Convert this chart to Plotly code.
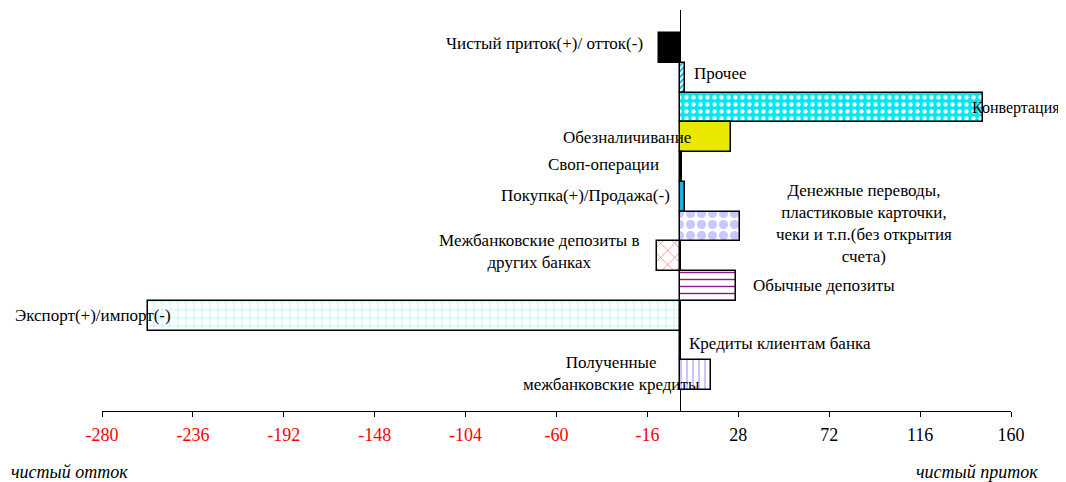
import plotly.graph_objects as go

categories = [
    "Чистый приток(+)/ отток(-)",
    "Прочее",
    "Конвертация",
    "Обезналичивание",
    "Своп-операции",
    "Покупка(+)/Продажа(-)",
    "Денежные переводы",
    "Межбанковские депозиты в других банках",
    "Обычные депозиты",
    "Экспорт(+)/импорт(-)",
    "Кредиты клиентам банка",
    "Полученные межбанковские кредиты",
]
values = [-10.5, 2.3, 146.5, 24.5, 0.6, 2.2, 29.0, -11.5, 27.0, -257.5, 0.0, 15.0]

tick_vals = [-280, -236, -192, -148, -104, -60, -16, 28, 72, 116, 160]

# label texts and placement (x in data units, anchor, vertical shift in px upward)
label_texts = [
    "Чистый приток(+)/ отток(-)",
    "Прочее",
    "Конвертация",
    "Обезналичивание",
    "Своп-операции",
    "Покупка(+)/Продажа(-)",
    "Денежные переводы,<br>пластиковые карточки,<br>чеки и т.п.(без открытия<br>счета)",
    "Межбанковские депозиты в<br>других банках",
    "Обычные депозиты",
    "Экспорт(+)/импорт(-)",
    "Кредиты клиентам банка",
    "Полученные<br>межбанковские кредиты",
]
label_x = [-17.2, 5.6, 140.3, 6.1, -9.4, -4.1, 88.8, -68, 34.1, -245.6, 3.2, -33.6]
label_anchor = ["right", "left", "left", "right", "right", "right", "center", "center",
                "left", "right", "left", "center"]
label_dy = [5, 4, 0, 0, 3, 1, 3, 4.5, 1, 0, 2, 1.5]
label_size = [17, 17, 16, 17, 17, 17, 17, 17, 17, 17, 17, 17]

# styles
fill_bg = ["black", "white", "#00e8f0", "#e8e800", "black", "#1ab0e8", "white", "white",
           "white", "white", "white", "white"]
fill_fg = ["black", "#1ab0e8", "white", "#e8e800", "black", "#1ab0e8", "#c8c8ff", "#ff8080",
           "#8b1a8b", "#a8f0f0", "white", "#8080ff"]
fill_shape = ["", "/", ".", "", "", "", ".", "x", "-", "+", "", "|"]
fill_size = [8, 4, 7, 8, 8, 8, 11, 10, 7, 8, 8, 6]
fill_sol = [0.3, 0.5, 0.3, 0.3, 0.3, 0.3, 0.55, 0.15, 0.2, 0.15, 0.3, 0.15]

fig = go.Figure()
for i, c in enumerate(categories):
    fig.add_trace(go.Bar(
        x=[values[i]], y=[c], orientation="h",
        marker=dict(
            color=fill_bg[i],
            line=dict(color="black", width=1.5),
            pattern=dict(shape=fill_shape[i], fgcolor=fill_fg[i], bgcolor=fill_bg[i],
                         size=fill_size[i], solidity=fill_sol[i], fillmode="replace"),
        ),
        showlegend=False, hoverinfo="skip",
    ))

FAM = "Liberation Serif, Times New Roman, serif"
font = dict(family=FAM, size=17, color="black")

for i, c in enumerate(categories):
    fig.add_annotation(x=label_x[i], y=c, text=label_texts[i], showarrow=False,
                       xanchor=label_anchor[i], yanchor="middle", yshift=label_dy[i],
                       align="center", font=dict(family=FAM, size=label_size[i], color="black"))

fig.add_annotation(x=0, y=-0.152, xref="paper", yref="paper", text="<i>чистый отток</i>",
                   showarrow=False, xanchor="left", yanchor="middle", xshift=-93,
                   font=dict(family=FAM, size=18, color="black"))
fig.add_annotation(x=1, y=-0.152, xref="paper", yref="paper", text="<i>чистый приток</i>",
                   showarrow=False, xanchor="right", yanchor="middle", xshift=29,
                   font=dict(family=FAM, size=18, color="black"))

tick_text = [("<span style='color:red'>%d</span>" % v) if v < 0 else str(v) for v in tick_vals]

fig.update_layout(
    width=1058, height=474,
    margin=dict(l=94, r=55, t=2, b=71),
    plot_bgcolor="white", paper_bgcolor="white",
    barmode="overlay", bargap=0,
    font=font,
    xaxis=dict(range=[-280, 160], tickvals=tick_vals, ticktext=tick_text,
               showgrid=False, zeroline=True, zerolinecolor="black", zerolinewidth=1.2,
               showline=True, linecolor="black", linewidth=1.2,
               ticks="outside", ticklen=5, tickcolor="black", ticklabelstandoff=2,
               tickfont=dict(family=FAM, size=18)),
    yaxis=dict(categoryorder="array", categoryarray=categories, range=[12.2, -1.28],
               showticklabels=False, showgrid=False, zeroline=False, showline=False,
               ticks=""),
)

fig.write_html("out.html")
